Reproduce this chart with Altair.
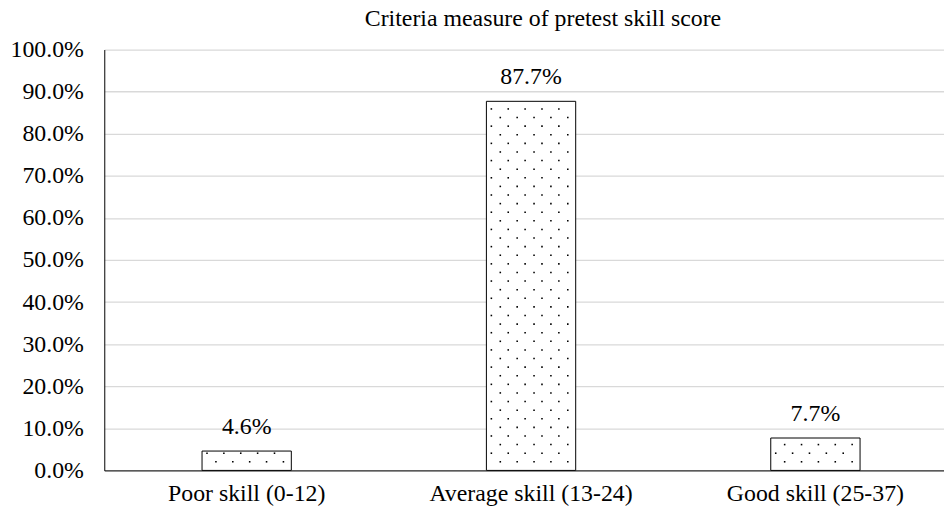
import altair as alt
import pandas as pd

categories = ["Poor skill (0-12)", "Average skill (13-24)", "Good skill (25-37)"]
values = [0.046, 0.877, 0.077]
title_text = "Criteria measure of pretest skill score"

FONT = "Liberation Serif"
FS = 24

bars_df = pd.DataFrame({"category": categories, "value": values})

# dotted texture inside each bar (decoration only), offsets from bar's left edge
row_step = 0.02045
offs_a = [5, 22, 39, 56, 73]
offs_b = [14, 31, 48, 65, 82]
dots = []
for c, v in zip(categories, values):
    k = 1
    while k * row_step < v - 0.003:
        offs = offs_a if k % 2 == 0 else offs_b
        for o in offs:
            dots.append({"category": c, "y": k * row_step, "dx": o})
        k += 1
dots_df = pd.DataFrame(dots)

xscale = alt.Scale(domain=categories, paddingInner=0.686, paddingOuter=0.3195, align=0.538)
yscale = alt.Scale(domain=[0, 1])

x_axis = alt.Axis(title=None, labelFont=FONT, labelFontSize=FS, labelColor="black",
                  labelPadding=11, ticks=False, domainColor="black", domainWidth=1,
                  labelAngle=0, grid=False, labelLimit=0)
y_axis = alt.Axis(title=None, format=".1%", values=[i / 10 for i in range(11)],
                  labelFont=FONT, labelFontSize=FS, labelColor="black", labelPadding=21,
                  ticks=False, domainColor="black", domainWidth=1, grid=True,
                  gridColor="#d9d9d9", gridWidth=1.3)

bars = alt.Chart(bars_df).mark_bar(fill="white", stroke="black", strokeWidth=1).encode(
    x=alt.X("category:N", scale=xscale, axis=x_axis, sort=categories),
    y=alt.Y("value:Q", scale=yscale, axis=y_axis),
)

dot_layer = alt.Chart(dots_df).mark_square(size=2.5, color="black", opacity=1).encode(
    x=alt.X("category:N", scale=xscale, sort=categories),
    xOffset=alt.XOffset("dx:Q", scale=None),
    y=alt.Y("y:Q", scale=yscale),
)

labels = alt.Chart(bars_df).mark_text(font=FONT, fontSize=FS, color="black",
                                      baseline="alphabetic", dy=-17).encode(
    x=alt.X("category:N", scale=xscale, sort=categories),
    y=alt.Y("value:Q", scale=yscale),
    text=alt.Text("value:Q", format=".1%"),
)

chart = alt.layer(bars, dot_layer, labels).properties(
    width=846,
    height=424,
    title=alt.TitleParams(title_text, font=FONT, fontSize=FS, fontWeight="normal",
                          color="black", anchor="middle", baseline="alphabetic",
                          frame="group", offset=-12, dx=19),
    autosize=alt.AutoSizeParams(type="none"),
    padding={"left": 97, "top": 40, "right": 0, "bottom": 35},
).configure(font=FONT).configure_text(font=FONT).configure_view(stroke=None)

chart.save("out.html", embed_options={"renderer": "svg", "actions": False})
